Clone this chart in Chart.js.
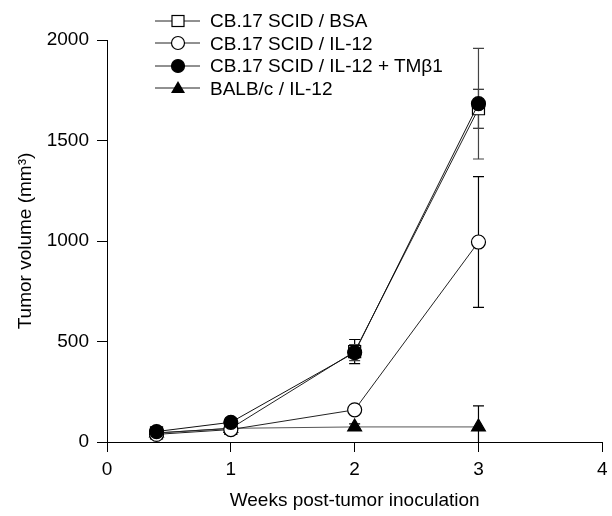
<!DOCTYPE html>
<html>
<head>
<meta charset="utf-8">
<script src="https://cdn.jsdelivr.net/npm/chart.js@4"></script>
<style>
  html, body { margin: 0; padding: 0; background: #fff; }
  #wrap { position: relative; width: 612px; height: 516px; }
  #legend {
    position: absolute; left: 155px; top: 10px;
    font-family: 'Liberation Sans', Arial, Helvetica, sans-serif;
    font-size: 19px; color: #000;
  }
  .row { display: flex; align-items: center; height: 22.5px; }
  .row svg { margin-right: 10px; }
</style>
</head>
<body>
<div id="wrap">
  <canvas id="chart" width="612" height="516"></canvas>
  <div id="legend"></div>
</div>
<script>
// ─── Data ────────────────────────────────────────────────────
const weeks = [0.4, 1, 2, 3];
const seriesNames = [
  'CB.17 SCID / BSA',
  'CB.17 SCID / IL-12',
  'CB.17 SCID / IL-12 + TMβ1',
  'BALB/c / IL-12',
];
const bsa      = [45, 68, 450, 1658];
const bsaErr   = [10, 10, 60, 97];
const il12     = [38, 62, 160, 995];
const il12Err  = [8, 10, 18, 325];
const tmb1     = [52, 98, 445, 1683];
const tmb1Err  = [10, 12, 40, 275];
const balb     = [45, 68, 75, 75];
const balbErr  = [8, 8, 15, 105];
const yTicks   = [0, 500, 1000, 1500, 2000];

const FONT = "'Liberation Sans', Arial, Helvetica, sans-serif";

function toPoints(ys) {
  return ys.map((y, i) => ({ x: weeks[i], y }));
}

// ─── Error bars (drawn under the markers) ────────────────────
const errorBars = {
  id: 'errorBars',
  beforeDatasetsDraw(chart) {
    const { ctx, chartArea, scales: { x, y } } = chart;
    ctx.save();
    ctx.beginPath();
    ctx.rect(chartArea.left, chartArea.top - 15, chartArea.right - chartArea.left, chartArea.bottom - chartArea.top + 15);
    ctx.clip();
    chart.data.datasets.forEach((ds) => {
      if (!ds.errors) return;
      ctx.strokeStyle = ds.errColor || '#000';
      ctx.lineWidth = 1.2;
      ds.data.forEach((p, i) => {
        const e = ds.errors[i];
        const px = x.getPixelForValue(p.x);
        const top = y.getPixelForValue(p.y + e);
        const bot = y.getPixelForValue(Math.max(0, p.y - e));
        ctx.beginPath();
        ctx.moveTo(px, top); ctx.lineTo(px, bot);
        ctx.moveTo(px - 5.5, top); ctx.lineTo(px + 5.5, top);
        if (p.y - e > 0) { ctx.moveTo(px - 5.5, bot); ctx.lineTo(px + 5.5, bot); }
        ctx.stroke();
      });
    });
    ctx.restore();
  },
};

const styles = [
  { pointStyle: 'rect',     radius: 8.5, fill: '#fff', order: 2, line: '#222' },
  { pointStyle: 'circle',   radius: 7,   fill: '#fff', order: 1, line: '#222' },
  { pointStyle: 'circle',   radius: 7,   fill: '#000', order: 0, line: '#111' },
  { pointStyle: 'triangle', radius: 8,   fill: '#000', order: 3, line: '#555' },
];
const values = [bsa, il12, tmb1, balb];
const errs   = [bsaErr, il12Err, tmb1Err, balbErr];

const datasets = seriesNames.map((name, i) => ({
  label: name,
  data: toPoints(values[i]),
  errors: errs[i],
  errColor: i === 2 ? '#444' : '#000',
  borderColor: styles[i].line,
  borderWidth: 1,
  pointStyle: styles[i].pointStyle,
  pointRadius: styles[i].radius,
  pointBackgroundColor: styles[i].fill,
  pointBorderColor: '#000',
  pointBorderWidth: 1.2,
  order: styles[i].order,
  tension: 0,
  fill: false,
}));

const axisCommon = {
  grid: { display: true, drawOnChartArea: false, drawTicks: true, tickLength: 10, color: '#000', lineWidth: 1 },
  border: { display: true, color: '#000', width: 1 },
};

new Chart(document.getElementById('chart'), {
  type: 'line',
  data: { datasets },
  plugins: [errorBars],
  options: {
    responsive: false,
    animation: false,
    layout: { padding: { top: 40, right: 5, left: 0, bottom: 0 } },
    plugins: { legend: { display: false }, tooltip: { enabled: false } },
    scales: {
      x: {
        ...axisCommon,
        type: 'linear', min: 0, max: 4,
        ticks: { stepSize: 1, color: '#000', padding: 6, font: { family: FONT, size: 19 },
                 callback: (v) => String(v) },
        title: { display: true, text: 'Weeks post-tumor inoculation', color: '#000',
                 font: { family: FONT, size: 19 }, padding: { top: 0, bottom: 4 } },
        afterFit(s) { s.height = 74; s.paddingLeft = 0; s.paddingRight = 0; },
      },
      y: {
        ...axisCommon,
        type: 'linear', min: 0, max: 2000,
        afterBuildTicks(s) { s.ticks = yTicks.map((v) => ({ value: v })); },
        ticks: { color: '#000', padding: 8, font: { family: FONT, size: 19 },
                 callback: (v) => String(v) },
        title: { display: true, text: 'Tumor volume (mm³)', color: '#000',
                 font: { family: FONT, size: 19 }, padding: { top: 14, bottom: 0 } },
        afterFit(s) { s.width = 107; s.paddingTop = 0; s.paddingBottom = 0; },
      },
    },
  },
});

// ─── HTML legend ─────────────────────────────────────────────
function markerSvg(st) {
  const c = 23, cy = 8;
  let m;
  if (st.pointStyle === 'rect') {
    m = `<rect x="${c - 6}" y="${cy - 5.5}" width="12" height="11" fill="${st.fill}" stroke="#000" stroke-width="1.2"/>`;
  } else if (st.pointStyle === 'circle') {
    m = `<circle cx="${c}" cy="${cy}" r="6.5" fill="${st.fill}" stroke="#000" stroke-width="1.2"/>`;
  } else {
    m = `<polygon points="${c},${cy - 7} ${c + 7},${cy + 5} ${c - 7},${cy + 5}" fill="#000"/>`;
  }
  return `<svg width="45" height="17" viewBox="0 0 45 17"><line x1="0" y1="${cy}" x2="45" y2="${cy}" stroke="#222" stroke-width="1"/>${m}</svg>`;
}
const legend = document.getElementById('legend');
seriesNames.forEach((name, i) => {
  const row = document.createElement('div');
  row.className = 'row';
  row.innerHTML = markerSvg(styles[i]) + `<span>${name}</span>`;
  legend.appendChild(row);
});
</script>
</body>
</html>
